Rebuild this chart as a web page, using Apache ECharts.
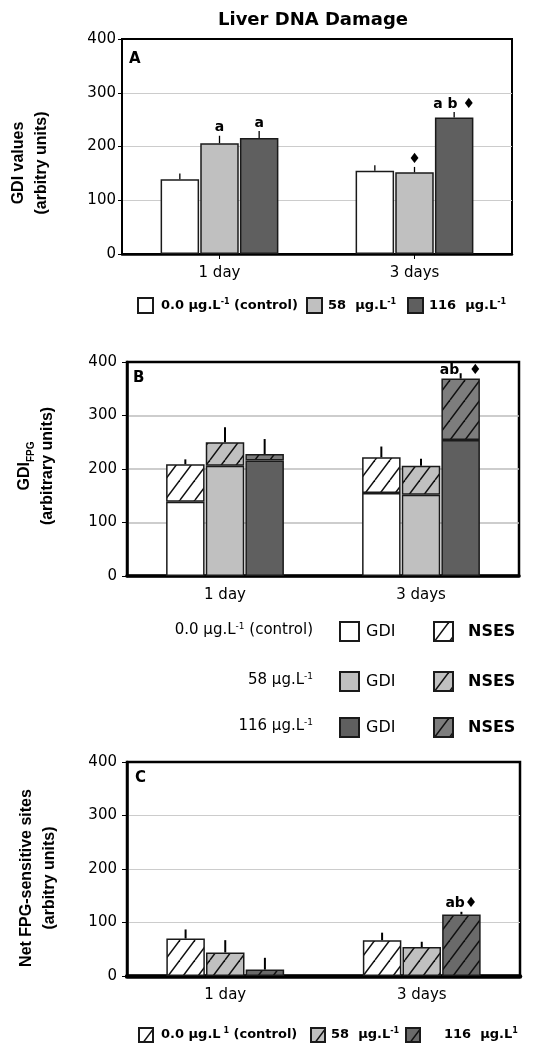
<!DOCTYPE html>
<html>
<head>
<meta charset="utf-8">
<script src="https://cdn.jsdelivr.net/npm/echarts@6/dist/echarts.min.js"></script>
<style>
  html, body { margin: 0; padding: 0; background: #fff; }
  #chart { width: 549px; height: 1046px; }
</style>
</head>
<body>
<div id="chart"></div>
<script>
// ---- data ----
const categories = ['1 day', '3 days'];
const yMin = 0, yMax = 400, yStep = 100;

// GDI values (panel A, and GDI part of panel B)
const gdiCtrl = [139, 155];
const gdi58 = [206, 152];
const gdi116 = [216, 254];
const gdiErrCtrl = [11, 10];
const gdiErr58 = [14, 10];
const gdiErr116 = [13, 10];

// Net FPG-sensitive sites (NSES): hatched part of panel B, and panel C
const nsesCtrl = [70, 67];
const nses58 = [44, 54];
const nses116 = [12, 115];

// error on GDI_FPG totals (panel B)
const fpgErrCtrl = [9, 20];
const fpgErr58 = [28, 13];
const fpgErr116 = [28, 10];

// error on net FPG-sensitive sites (panel C)
const netErrCtrl = [17, 14];
const netErr58 = [23, 10];
const netErr116 = [22, 5];

// significance marks
const sigGdiCtrl = ['', ''];
const sigGdi58 = ['a', '\u2666'];
const sigGdi116 = ['a', 'a b \u2666'];
const sigFpg116 = ['', 'ab  \u2666'];
const sigNet116 = ['', 'ab\u2666'];
const noSig = ['', ''];

// ---- styling ----
const FONT = 'DejaVu Sans, Liberation Sans, sans-serif';
const FONT_V = 'Liberation Sans, Arial, sans-serif';
const WHITE = '#ffffff', LIGHT = '#c0c0c0', DARK = '#5f5f5f';
const BAR_W = 38.5, GAP_PCT = 3;
const SLOT = BAR_W * (1 + GAP_PCT / 100);

function hatch(fill, W, H) {
  const c = document.createElement('canvas');
  c.width = W; c.height = H;
  const g = c.getContext('2d');
  g.fillStyle = fill; g.fillRect(0, 0, W, H);
  g.strokeStyle = '#111'; g.lineWidth = 1.5;
  [-W, 0, W].forEach(function (dx) {
    g.beginPath(); g.moveTo(dx, H); g.lineTo(dx + W, 0); g.stroke();
  });
  return { image: c, repeat: 'repeat' };
}

const hatchWhite = hatch(WHITE, 15, 20);
const hatchLight = hatch(LIGHT, 15, 20);
const hatchDarkB = hatch('#7d7d7d', 15, 20);
const hatchDarkC = hatch('#6a6a6a', 15, 20);

const barBorder = { borderColor: '#1a1a1a', borderWidth: 1.5 };

function bar(name, axis, data, color, stack) {
  const s = {
    name: name, type: 'bar', xAxisIndex: axis, yAxisIndex: axis,
    data: data, barWidth: BAR_W, barGap: GAP_PCT + '%',
    itemStyle: Object.assign({ color: color }, barBorder),
    emphasis: { disabled: true }, z: 2
  };
  if (stack) s.stack = stack;
  return s;
}

// vertical error line above a bar, with optional significance text
function errBars(axis, slot, base, err, marks, lw, anchorBar) {
  return {
    type: 'custom', xAxisIndex: axis, yAxisIndex: axis, z: 6,
    data: categories.map(function (c, i) { return [i, base[i] + err[i]]; }),
    encode: { x: 0, y: 1 },
    renderItem: function (params, api) {
      const i = params.dataIndex;
      const x = api.coord([i, 0])[0] + (slot - 1) * SLOT;
      const yb = api.coord([i, base[i]])[1];
      const yt = api.coord([i, base[i] + err[i]])[1];
      const children = [{
        type: 'line',
        shape: { x1: x, y1: yb, x2: x, y2: yt },
        style: { stroke: '#000', lineWidth: lw }
      }];
      if (marks[i]) {
        children.push({
          type: 'text', x: x, y: (anchorBar ? yb : yt) - 1, z2: 10,
          style: {
            text: marks[i], textAlign: 'center', textVerticalAlign: 'bottom',
            font: 'bold 14px ' + FONT, fill: '#000'
          }
        });
      }
      return { type: 'group', children: children };
    }
  };
}

const fpgCtrl = gdiCtrl.map(function (v, i) { return v + nsesCtrl[i]; });
const fpg58 = gdi58.map(function (v, i) { return v + nses58[i]; });
const fpg116 = gdi116.map(function (v, i) { return v + nses116[i]; });

// ---- layout of the three panels ----
const grids = [
  { left: 122, right: 37, top: 39, height: 215, frame: 2, xLine: 2.5, split: '#cccccc', margin: 6, tick: 4 },
  { left: 127, right: 30, top: 362, height: 214, frame: 2.5, xLine: 3.5, split: '#bdbdbd', margin: 10, tick: 5 },
  { left: 127, right: 29, top: 762, height: 214, frame: 2.5, xLine: 4.5, split: '#cccccc', margin: 10, tick: 5 }
];

function legendItem(name, label, left, top, size, pad, weight, fs) {
  return {
    data: [name], left: left, top: top, orient: 'horizontal',
    itemWidth: size, itemHeight: size, icon: 'rect', selectedMode: false,
    padding: 0,
    formatter: function () { return label; },
    textStyle: {
      fontFamily: FONT, fontSize: fs || 13, fontWeight: weight || 'bold', color: '#000',
      padding: [0, 0, 0, pad], lineHeight: 16,
      rich: {
        sup: { fontSize: 8, fontWeight: weight || 'bold', verticalAlign: 'top', lineHeight: 9, fontFamily: FONT, color: '#000' }
      }
    }
  };
}

function yName(x, y, text, rich) {
  return {
    type: 'text', x: x, y: y, rotation: Math.PI / 2,
    style: {
      text: text, textAlign: 'center', textVerticalAlign: 'middle',
      font: 'bold 16px ' + FONT_V, fill: '#000', lineHeight: 23, rich: rich || {}
    }
  };
}

function plainText(x, y, text, font, align) {
  return {
    type: 'text', x: x, y: y,
    style: {
      text: text, textAlign: align || 'left', textVerticalAlign: 'middle',
      font: font, fill: '#000',
      rich: {
        sup: { fontSize: 9, verticalAlign: 'top', lineHeight: 9, fontFamily: FONT, fill: '#000' }
      }
    }
  };
}

const option = {
  animation: false,
  backgroundColor: '#ffffff',
  textStyle: { fontFamily: FONT },
  grid: grids.map(function (g) {
    return {
      left: g.left, right: g.right, top: g.top, height: g.height,
      show: true, borderColor: '#000', borderWidth: g.frame, backgroundColor: 'transparent'
    };
  }),
  xAxis: grids.map(function (g, k) {
    return {
      type: 'category', gridIndex: k, data: categories,
      barCategoryGap: '40%',
      axisLine: { show: true, lineStyle: { color: '#000', width: g.xLine } },
      axisTick: { show: k === 0, alignWithLabel: true, length: 5, lineStyle: { color: '#000' } },
      axisLabel: { fontSize: 15, color: '#000', margin: 12, fontFamily: FONT }
    };
  }),
  yAxis: grids.map(function (g, k) {
    return {
      type: 'value', gridIndex: k, min: yMin, max: yMax, interval: yStep,
      axisLine: { show: true, lineStyle: { color: '#000', width: g.frame } },
      axisTick: { show: true, length: g.tick, lineStyle: { color: '#000' } },
      axisLabel: { fontSize: 15, color: '#000', margin: g.margin, fontFamily: FONT },
      splitLine: {
        show: true, showMinLine: false, showMaxLine: false,
        lineStyle: { color: g.split, width: k === 1 ? 1.5 : 1 }
      }
    };
  }),
  legend: [
    // panel A
    legendItem('A0', '0.0 \u00b5g.L{sup|-1} (control)', 137, 297, 15, 3),
    legendItem('A1', '58  \u00b5g.L{sup|-1}', 306, 297, 15, 1),
    legendItem('A2', '116  \u00b5g.L{sup|-1}', 407, 297, 15, 1),
    // panel B, one row per concentration
    legendItem('B0g', 'GDI', 339, 621, 19, 2, 'normal', 16),
    legendItem('B0n', 'NSES', 433, 621, 19, 10, 'bold', 16),
    legendItem('B1g', 'GDI', 339, 671, 19, 2, 'normal', 16),
    legendItem('B1n', 'NSES', 433, 671, 19, 10, 'bold', 16),
    legendItem('B2g', 'GDI', 339, 717, 19, 2, 'normal', 16),
    legendItem('B2n', 'NSES', 433, 717, 19, 10, 'bold', 16),
    // panel C
    legendItem('C0', '0.0 \u00b5g.L{sup| 1} (control)', 138, 1027, 14, 3),
    legendItem('C1', '58  \u00b5g.L{sup|-1}', 310, 1027, 14, 1),
    legendItem('C2', '116  \u00b5g.L{sup|1}', 405, 1027, 14, 19)
  ],
  graphic: [
    plainText(313, 20, 'Liver DNA Damage', 'bold 18px ' + FONT, 'center'),
    plainText(129, 59, 'A', 'bold 15px ' + FONT),
    plainText(133, 378, 'B', 'bold 15px ' + FONT),
    plainText(135, 778, 'C', 'bold 15px ' + FONT),
    yName(30, 163, 'GDI values\n(arbitry units)'),
    yName(36, 466, '{m|GDI}{s|FPG}\n(arbitrary units)', {
      m: { font: 'bold 16px ' + FONT_V, fill: '#000' },
      s: { font: 'bold 10px ' + FONT_V, fill: '#000', verticalAlign: 'bottom', lineHeight: 14 }
    }),
    yName(38, 878, 'Net FPG-sensitive sites\n(arbitry units)'),
    plainText(313, 630, '0.0 \u00b5g.L{sup|-1} (control)', '15px ' + FONT, 'right'),
    plainText(313, 680, '58 \u00b5g.L{sup|-1}', '15px ' + FONT, 'right'),
    plainText(313, 726, '116 \u00b5g.L{sup|-1}', '15px ' + FONT, 'right')
  ],
  series: [
    // A: GDI values
    bar('A0', 0, gdiCtrl, WHITE),
    bar('A1', 0, gdi58, LIGHT),
    bar('A2', 0, gdi116, DARK),
    errBars(0, 0, gdiCtrl, gdiErrCtrl, sigGdiCtrl, 1.3, false),
    errBars(0, 1, gdi58, gdiErr58, sigGdi58, 1.3, false),
    errBars(0, 2, gdi116, gdiErr116, sigGdi116, 1.3, false),

    // B: GDI_FPG = GDI + NSES (stacked per concentration)
    bar('B0g', 1, gdiCtrl, WHITE, 's0'),
    bar('B0n', 1, nsesCtrl, hatchWhite, 's0'),
    bar('B1g', 1, gdi58, LIGHT, 's1'),
    bar('B1n', 1, nses58, hatchLight, 's1'),
    bar('B2g', 1, gdi116, DARK, 's2'),
    bar('B2n', 1, nses116, hatchDarkB, 's2'),
    errBars(1, 0, fpgCtrl, fpgErrCtrl, noSig, 2, true),
    errBars(1, 1, fpg58, fpgErr58, noSig, 2, true),
    errBars(1, 2, fpg116, fpgErr116, sigFpg116, 2, true),

    // C: net FPG-sensitive sites
    bar('C0', 2, nsesCtrl, hatchWhite),
    bar('C1', 2, nses58, hatchLight),
    bar('C2', 2, nses116, hatchDarkC),
    errBars(2, 0, nsesCtrl, netErrCtrl, noSig, 2, false),
    errBars(2, 1, nses58, netErr58, noSig, 2, false),
    errBars(2, 2, nses116, netErr116, sigNet116, 2, false)
  ]
};

const chart = echarts.init(document.getElementById('chart'), null, { renderer: 'canvas' });
chart.setOption(option);
</script>
</body>
</html>
